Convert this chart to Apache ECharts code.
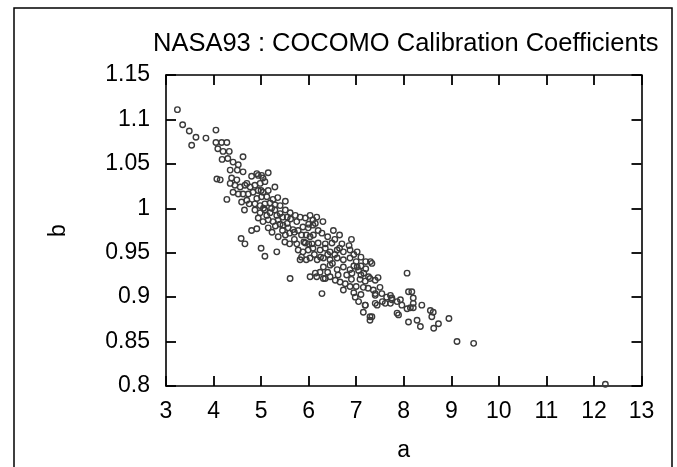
<!DOCTYPE html>
<html>
<head>
<meta charset="utf-8">
<script src="https://cdn.jsdelivr.net/npm/echarts@6/dist/echarts.min.js"></script>
<style>
html,body{margin:0;padding:0;background:#fff;}
#chart{width:677px;height:467px;}
</style>
</head>
<body>
<div id="chart"></div>
<script>
const titleText = 'NASA93 : COCOMO Calibration Coefficients';
const xName = 'a';
const yName = 'b';
const xTicks = [3, 4, 5, 6, 7, 8, 9, 10, 11, 12, 13];
const yTicks = [0.8, 0.85, 0.9, 0.95, 1, 1.05, 1.1, 1.15];

// [a, b] calibration coefficient pairs
const points = [
  [3.24,1.111],[3.35,1.094],[3.49,1.087],[3.63,1.080],[3.54,1.071],[3.84,1.079],[4.05,1.088],
  [4.05,1.074],[4.17,1.074],[4.28,1.074],[4.09,1.067],[4.20,1.064],[4.33,1.064],
  [4.18,1.055],[4.30,1.056],[4.41,1.052],[4.52,1.049],[4.62,1.058],
  [4.35,1.043],[4.50,1.043],[4.62,1.041],
  [4.07,1.033],[4.14,1.032],[4.38,1.034],[4.49,1.032],
  [4.80,1.036],[4.94,1.037],[5.04,1.034],[5.15,1.040],[4.70,1.028],[4.91,1.039],[5.01,1.037],
  [4.35,1.028],[4.45,1.026],[4.56,1.024],[4.66,1.026],[4.77,1.024],[4.87,1.026],[4.98,1.028],[5.08,1.030],[5.29,1.024],
  [4.41,1.018],[4.52,1.016],[4.62,1.016],[4.73,1.016],[4.83,1.018],[4.94,1.020],[5.04,1.018],[5.15,1.020],
  [4.28,1.010],[4.59,1.007],[4.70,1.009],[4.91,1.011],[5.01,1.013],[5.12,1.013],
  [4.87,1.005],[4.98,1.003],[5.08,1.005],[5.19,1.006],[5.29,1.004],[5.40,1.003],[5.51,1.008],
  [4.87,0.998],[4.98,0.995],[5.08,0.998],[5.19,0.995],[5.29,0.998],[5.40,0.994],
  [5.51,0.998],[5.61,0.995],[5.72,0.992],[5.82,0.990],[5.93,0.989],[6.03,0.992],[6.09,0.987],
  [4.94,0.989],[5.04,0.985],[5.15,0.987],[5.25,0.985],[5.36,0.987],
  [5.46,0.981],[5.57,0.978],[5.67,0.976],[5.78,0.975],
  [4.80,0.975],[4.91,0.977],[5.15,0.978],[5.23,0.973],
  [5.88,0.979],[5.99,0.978],[6.09,0.981],
  [5.36,0.968],[5.51,0.970],
  [4.58,0.966],[4.66,0.960],[5.00,0.955],[5.08,0.946],
  [6.17,0.990],[6.14,0.983],[6.28,0.972],[6.52,0.975],[6.03,0.968],
  [5.93,0.961],[6.07,0.960],[6.20,0.961],[6.35,0.960],[6.49,0.961],
  [5.33,0.951],
  [5.78,0.953],[5.88,0.951],[5.99,0.953],[6.09,0.955],[6.24,0.953],[6.35,0.955],[6.45,0.951],[6.60,0.953],[6.73,0.951],[6.87,0.953],[7.02,0.951],
  [5.82,0.942],[6.03,0.944],[6.18,0.942],[6.31,0.944],[6.45,0.942],[6.60,0.944],[6.73,0.942],[6.87,0.944],
  [6.31,0.934],[6.45,0.936],[6.60,0.931],[6.73,0.934],[6.87,0.931],[7.02,0.934],
  [6.17,0.923],[6.31,0.921],[5.61,0.921],
  [5.62,0.988],[5.75,0.985],[5.85,0.970],[5.95,0.970],[5.70,0.965],[5.60,0.960],[5.50,0.962],[5.45,0.975],
  [6.20,0.975],[6.10,0.970],[6.40,0.968],[6.00,0.960],
  [6.03,0.923],[6.14,0.927],[6.24,0.928],
  [6.35,0.921],[6.45,0.923],[6.56,0.919],[6.66,0.917],[6.77,0.915],
  [6.28,0.904],[6.73,0.908],[6.87,0.912],
  [6.91,0.927],[7.05,0.930],[7.16,0.927],[7.26,0.923],[7.33,0.938],
  [7.08,0.920],[7.19,0.918],[7.29,0.921],[7.40,0.919],[7.46,0.922],
  [7.15,0.911],[7.25,0.910],[7.36,0.908],[7.50,0.911],
  [6.98,0.900],[7.05,0.895],[7.19,0.891],[7.29,0.878],
  [7.40,0.902],[7.54,0.904],[7.64,0.900],[7.75,0.899],[7.86,0.895],
  [7.44,0.891],[7.61,0.893],[7.72,0.893],[7.86,0.882],
  [6.55,0.965],[6.70,0.960],[6.85,0.958],[6.95,0.948],[7.10,0.945],[7.20,0.940],[6.65,0.970],[6.90,0.965],
  [7.00,0.940],[7.10,0.935],[7.30,0.940],[6.80,0.925],[6.95,0.935],
  [8.07,0.927],[8.10,0.906],[8.17,0.906],[7.72,0.902],[7.75,0.897],[7.93,0.897],[7.96,0.891],[8.20,0.899],
  [8.20,0.893],[8.14,0.888],[8.20,0.888],[8.07,0.887],[8.38,0.891],
  [8.56,0.885],[8.62,0.883],[8.59,0.878],[8.73,0.870],[8.63,0.865],[8.95,0.876],[7.89,0.880],
  [8.10,0.872],[8.28,0.874],[8.35,0.867],[9.12,0.850],[9.47,0.848],
  [7.19,0.891],[7.15,0.883],[7.33,0.878],[7.29,0.874],[7.40,0.893],[7.40,0.904],[7.55,0.895],
  [5.05,1.000],[5.12,0.992],[5.22,1.000],[5.33,0.992],[5.45,0.990],[5.55,0.990],[5.30,0.980],[5.40,0.982],
  [5.60,0.972],[5.70,0.973],[5.75,0.960],[5.90,0.962],[5.85,0.945],[5.95,0.942],[6.12,0.948],[6.25,0.945],
  [6.40,0.948],[6.55,0.948],[6.65,0.955],[6.50,0.938],[6.62,0.925],[6.40,0.928],[6.90,0.920],[7.10,0.925],
  [7.20,0.932],[7.00,0.912],[6.95,0.905],[7.10,0.903],[5.25,1.010],[5.35,1.012],[5.00,1.020],[4.75,1.005],
  [4.65,0.998],[5.55,0.983],[6.30,0.985],[6.00,0.982],
  [12.24,0.802]
];

const FONT = '"Liberation Sans", Arial, Helvetica, sans-serif';
const chart = echarts.init(document.getElementById('chart'), null, {renderer: 'canvas'});

const xMin = xTicks[0], xMax = xTicks[xTicks.length - 1], xStep = xTicks[1] - xTicks[0];
const yMin = yTicks[0], yMax = yTicks[yTicks.length - 1], yStep = 0.05;

const lineStyle = {color: '#000', width: 1.6};
const tickStyle = {show: true, inside: true, length: 10, lineStyle: {color: '#000', width: 1.8}};

chart.setOption({
  backgroundColor: '#fff',
  animation: false,
  title: {
    text: titleText,
    left: 148,
    top: 26,
    textStyle: {fontFamily: FONT, fontSize: 25.5, fontWeight: 'normal', color: '#000'}
  },
  graphic: [{
    type: 'rect',
    shape: {x: 14, y: 8, width: 658, height: 480},
    style: {fill: 'none', stroke: '#000', lineWidth: 1.5},
    silent: true,
    z: 100
  }],
  grid: {left: 166, top: 75, width: 475.5, height: 311, containLabel: false},
  xAxis: [{
    type: 'value', min: xMin, max: xMax, interval: xStep, position: 'bottom',
    name: xName, nameLocation: 'middle', nameGap: 53,
    nameTextStyle: {fontFamily: FONT, fontSize: 23, color: '#000'},
    axisLine: {show: true, lineStyle: lineStyle},
    axisTick: tickStyle,
    axisLabel: {fontFamily: FONT, fontSize: 23, color: '#000', margin: 14},
    splitLine: {show: false}
  }, {
    type: 'value', min: xMin, max: xMax, interval: xStep, position: 'top',
    axisLine: {show: true, lineStyle: lineStyle},
    axisTick: tickStyle,
    axisLabel: {show: false},
    splitLine: {show: false}
  }],
  yAxis: [{
    type: 'value', min: yMin, max: yMax, interval: yStep, position: 'left',
    name: yName, nameLocation: 'middle', nameGap: 96, nameRotate: 90,
    nameTextStyle: {fontFamily: FONT, fontSize: 23, color: '#000'},
    axisLine: {show: true, lineStyle: lineStyle},
    axisTick: tickStyle,
    axisLabel: {fontFamily: FONT, fontSize: 23, color: '#000', margin: 16},
    splitLine: {show: false}
  }, {
    type: 'value', min: yMin, max: yMax, interval: yStep, position: 'right',
    axisLine: {show: true, lineStyle: lineStyle},
    axisTick: tickStyle,
    axisLabel: {show: false},
    splitLine: {show: false}
  }],
  series: [{
    type: 'scatter',
    xAxisIndex: 0,
    yAxisIndex: 0,
    data: points,
    symbol: 'circle',
    symbolSize: 5.5,
    itemStyle: {color: 'rgba(255,255,255,0)', borderColor: '#3a3a3a', borderWidth: 1.4, opacity: 1},
    emphasis: {disabled: true},
    clip: false
  }]
});
</script>
</body>
</html>
